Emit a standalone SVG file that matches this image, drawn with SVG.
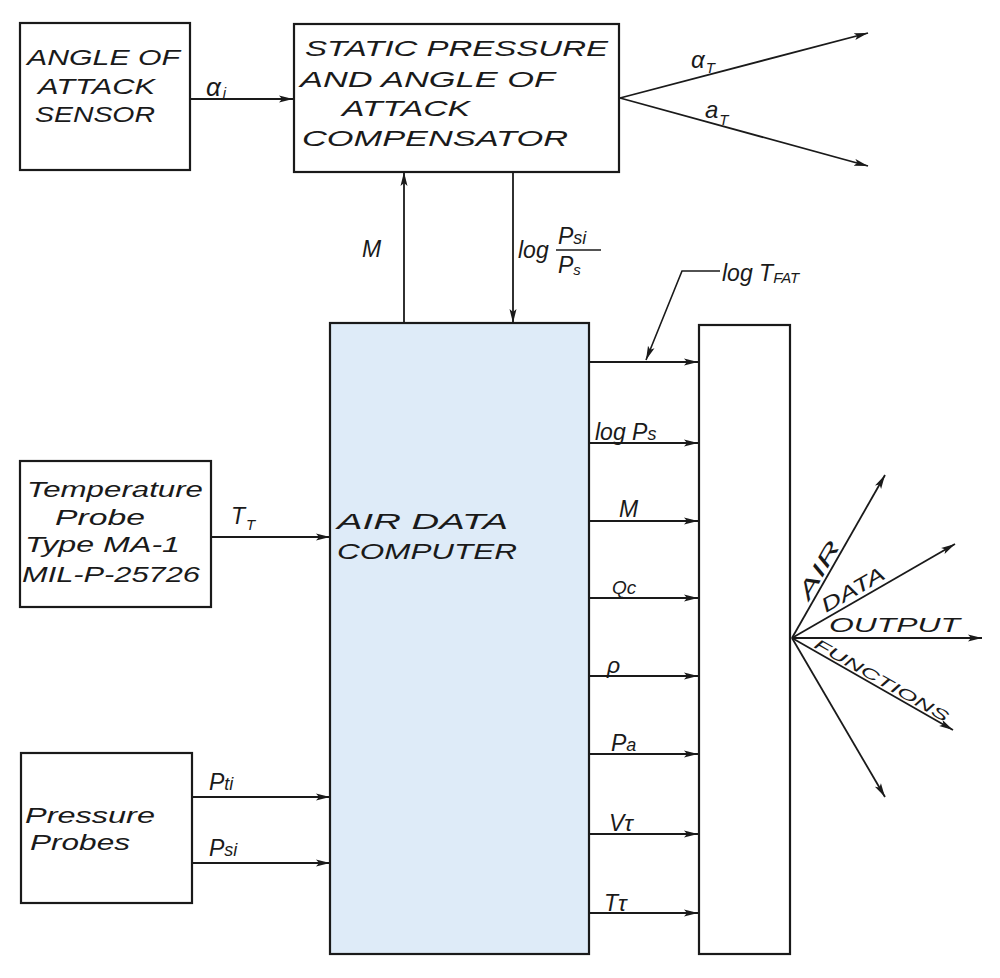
<svg xmlns="http://www.w3.org/2000/svg" width="1000" height="978" viewBox="0 0 1000 978">
<defs>
<marker id="ah" markerUnits="userSpaceOnUse" markerWidth="16" markerHeight="10" refX="14" refY="4" orient="auto">
<path d="M0,0.5 L14,4 L0,7.5 L3,4 z" fill="#1a1a1a"/>
</marker>
</defs>
<style>
.box{fill:#fff;stroke:#1a1a1a;stroke-width:2.2}
.adc{fill:#deebf8;stroke:#1a1a1a;stroke-width:2.2}
.cn{stroke:#1a1a1a;stroke-width:1.8;fill:none;marker-end:url(#ah)}
.ld{stroke:#1a1a1a;stroke-width:1.6;fill:none}
text{font-family:"Liberation Sans",Arial,sans-serif;font-style:italic;fill:#1a1a1a}
.t{font-size:22px}
.l{font-size:23px}
.s{font-size:15px}
</style>
<rect width="1000" height="978" fill="#fff"/>

<g id="aoa-sensor">
<rect class="box" x="20" y="23" width="170" height="147"/>
<text class="t" x="27" y="65" textLength="153" lengthAdjust="spacingAndGlyphs">ANGLE OF</text>
<text class="t" x="38" y="94" textLength="117" lengthAdjust="spacingAndGlyphs">ATTACK</text>
<text class="t" x="35" y="122" textLength="120" lengthAdjust="spacingAndGlyphs">SENSOR</text>
</g>

<g id="compensator">
<rect class="box" x="294" y="24" width="325" height="148"/>
<text class="t" x="305" y="56" textLength="303" lengthAdjust="spacingAndGlyphs">STATIC PRESSURE</text>
<text class="t" x="300" y="87" textLength="255" lengthAdjust="spacingAndGlyphs">AND ANGLE OF</text>
<text class="t" x="342" y="116" textLength="128" lengthAdjust="spacingAndGlyphs">ATTACK</text>
<text class="t" x="302" y="146" textLength="266" lengthAdjust="spacingAndGlyphs">COMPENSATOR</text>
</g>

<g id="air-data-computer">
<rect class="adc" x="330" y="323" width="259" height="631"/>
<text class="t" x="337" y="529" textLength="171" lengthAdjust="spacingAndGlyphs">AIR DATA</text>
<text class="t" x="337" y="559" textLength="180" lengthAdjust="spacingAndGlyphs">COMPUTER</text>
</g>

<g id="output-unit">
<rect class="box" x="699" y="325" width="91" height="629"/>
</g>

<g id="temperature-probe">
<rect class="box" x="20" y="461" width="191" height="146"/>
<text class="t" x="27" y="497" textLength="176" lengthAdjust="spacingAndGlyphs">Temperature</text>
<text class="t" x="55" y="525" textLength="90" lengthAdjust="spacingAndGlyphs">Probe</text>
<text class="t" x="25" y="552" textLength="155" lengthAdjust="spacingAndGlyphs">Type MA-1</text>
<text class="t" x="22" y="582" textLength="178" lengthAdjust="spacingAndGlyphs">MIL-P-25726</text>
</g>

<g id="pressure-probes">
<rect class="box" x="21" y="753" width="171" height="150"/>
<text class="t" x="25" y="823" textLength="130" lengthAdjust="spacingAndGlyphs">Pressure</text>
<text class="t" x="30" y="850" textLength="100" lengthAdjust="spacingAndGlyphs">Probes</text>
</g>

<g id="connectors">
<line class="cn" x1="190" y1="99" x2="293" y2="99"/>
<line class="cn" x1="620" y1="98" x2="868" y2="33"/>
<line class="cn" x1="620" y1="98" x2="868" y2="166"/>
<line class="cn" x1="404" y1="323" x2="404" y2="172"/>
<line class="cn" x1="513" y1="171" x2="513" y2="323"/>
<line class="cn" x1="211" y1="537" x2="330" y2="537"/>
<line class="cn" x1="192" y1="797" x2="330" y2="797"/>
<line class="cn" x1="192" y1="863" x2="330" y2="863"/>
<line class="cn" x1="589" y1="362" x2="698" y2="362"/>
<line class="cn" x1="589" y1="443" x2="698" y2="443"/>
<line class="cn" x1="589" y1="521" x2="698" y2="521"/>
<line class="cn" x1="589" y1="598" x2="698" y2="598"/>
<line class="cn" x1="589" y1="676" x2="698" y2="676"/>
<line class="cn" x1="589" y1="754" x2="698" y2="754"/>
<line class="cn" x1="589" y1="834" x2="698" y2="834"/>
<line class="cn" x1="589" y1="913" x2="698" y2="913"/>
<polyline class="ld" points="720,271 682,271 646,360" marker-end="url(#ah)"/>
<line class="cn" x1="792" y1="638" x2="885" y2="475"/>
<line class="cn" x1="792" y1="638" x2="955" y2="544"/>
<line class="cn" x1="792" y1="638" x2="982" y2="638"/>
<line class="cn" x1="792" y1="638" x2="953" y2="730"/>
<line class="cn" x1="792" y1="638" x2="885" y2="797"/>
</g>

<g id="labels">
<text font-size="26px" x="206" y="96">α<tspan class="s" dy="2" dx="2">i</tspan></text>
<text font-size="24px" x="691" y="68">α<tspan class="s" dy="5" dx="1">T</tspan></text>
<text font-size="24px" x="705" y="118">a<tspan class="s" dy="7" dx="1">T</tspan></text>
<text class="l" x="362" y="257">M</text>
<text class="l" x="518" y="258">log</text>
<text class="l" x="558" y="244">P<tspan font-size="18px">si</tspan></text>
<line class="ld" x1="556" y1="250" x2="601" y2="250"/>
<text class="l" x="558" y="273">P<tspan class="s" dy="2">s</tspan></text>
<text class="l" x="722" y="281">log T<tspan class="s" dy="2">FAT</tspan></text>
<text class="l" x="595" y="440">log P<tspan font-size="18px">s</tspan></text>
<text class="l" x="619" y="517">M</text>
<text font-size="19px" x="612" y="594">Qc</text>
<text class="l" x="607" y="673">ρ</text>
<text class="l" x="611" y="751">P<tspan font-size="18px">a</tspan></text>
<text class="l" x="609" y="831">Vτ</text>
<text class="l" x="604" y="911">Tτ</text>
<text class="l" x="231" y="524">T<tspan class="s" dy="6" dx="1">T</tspan></text>
<text class="l" x="209" y="790">P<tspan font-size="18px">ti</tspan></text>
<text class="l" x="209" y="856">P<tspan font-size="18px">si</tspan></text>
<text font-size="20px" transform="translate(809,601) rotate(-60.3)" textLength="64" lengthAdjust="spacingAndGlyphs">AIR</text>
<text font-size="20px" transform="translate(826,613) rotate(-29.9)" textLength="70" lengthAdjust="spacingAndGlyphs">DATA</text>
<text font-size="21px" x="829" y="632" textLength="131" lengthAdjust="spacingAndGlyphs">OUTPUT</text>
<text font-size="15px" transform="translate(813,647) rotate(29.7)" textLength="152" lengthAdjust="spacingAndGlyphs">FUNCTIONS</text>
</g>
</svg>
